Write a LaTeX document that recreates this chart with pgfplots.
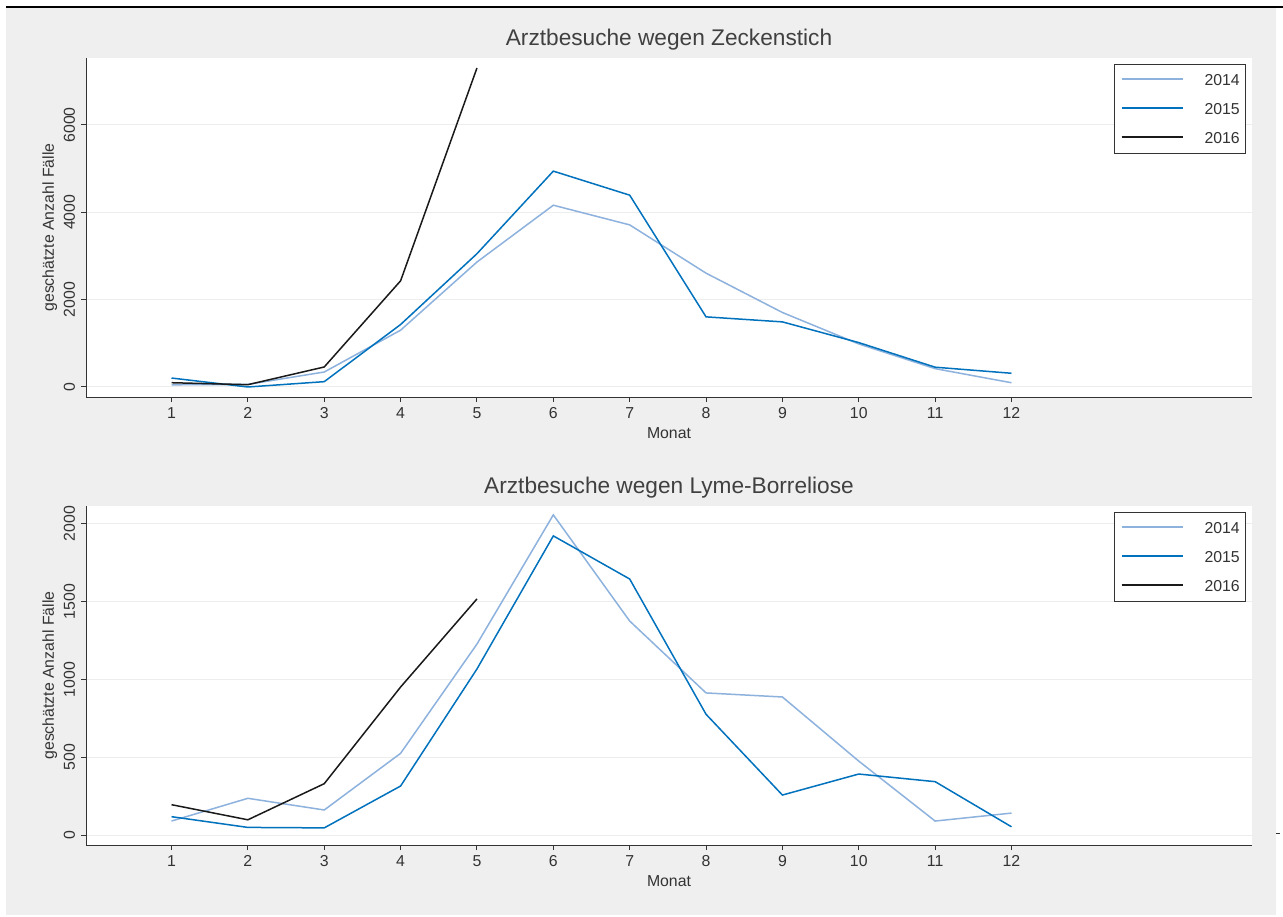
\documentclass[border=0pt]{standalone}
\usepackage{pgfplots}
\pgfplotsset{compat=1.18}
\usepackage{fontspec}
\setmainfont{Liberation Sans}

\definecolor{bg}{RGB}{239,239,239}
\definecolor{c14}{RGB}{142,178,222}
\definecolor{c15}{RGB}{0,114,189}
\definecolor{c16}{RGB}{26,26,26}
\definecolor{txt}{RGB}{51,51,51}

% 1 px of the reference = 0.6pt
\pgfplotsset{
  every axis title shift=0pt,
  zplot/.style={
    scale only axis, width=699.6pt, height=203.4pt,
    xmin=-0.12, xmax=15.15,
    xtick={1,...,12},
    axis x line*=bottom, axis y line*=left,
    axis line style={-, draw=txt, line width=0.6pt},
    tick style={draw=txt, line width=0.6pt},
    tick align=outside, major tick length=3pt,
    ymajorgrids, grid style={draw=black!7, line width=0.6pt},
    axis background/.style={fill=white},
    ticklabel style={font=\fontsize{9.5}{11}\selectfont, text=txt},
    /pgf/number format/assume math mode=true,
    /pgf/number format/set thousands separator={},
    yticklabel style={rotate=90, anchor=south},
    xlabel={Monat}, ylabel={geschätzte Anzahl Fälle},
    label style={font=\fontsize{9.5}{11}\selectfont, text=txt},
    xlabel style={at={(axis description cs:0.5,0)}, anchor=center, yshift=-21.6pt},
    ylabel style={at={(axis description cs:-0.031,0.5)}, anchor=center},
    title style={at={(axis description cs:0.5,1)}, anchor=center, yshift=10.8pt,
      font=\fontsize{13.6}{16}\selectfont, text=black!75},
    legend style={at={(1,1)}, anchor=north east, xshift=-3.6pt, yshift=-3.3pt,
      draw=black!80, line width=0.6pt, fill=white,
      inner xsep=0pt, inner ysep=0.6pt, column sep=0pt, row sep=0pt,
      font=\fontsize{9.5}{11}\selectfont,
      nodes={inner xsep=0pt, inner ysep=5.2pt, text height=7pt, text depth=0pt,
        text width=24.6pt, align=left, text=txt}},
    legend image code/.code={
      \path[draw=none] (0pt,0.4pt) -- (54pt,0.4pt);
      \draw[##1] (4.2pt,0.4pt) -- (40.8pt,0.4pt);},
  },
}

\begin{document}
\begin{tikzpicture}
\useasboundingbox (0,0) rectangle (769.8pt,-550.2pt);
\fill[bg] (3.6pt,-4.8pt) rectangle (765.6pt,-549pt);
\draw[black, line width=0.8pt] (3.6pt,-4.2pt) -- (769.8pt,-4.2pt);
\draw[txt, line width=0.6pt] (765.6pt,-499.8pt) -- (768pt,-499.8pt);

\begin{axis}[zplot,
    at={(51.6pt,-238.2pt)}, anchor=south west,
    title={Arztbesuche wegen Zeckenstich},
    ymin=-229, ymax=7529,
    ytick={0,2000,4000,6000},
]
\addplot[c14, line width=0.9pt] coordinates {
  (1,50)(2,60)(3,343)(4,1300)(5,2860)(6,4160)(7,3710)(8,2605)(9,1705)(10,985)(11,420)(12,97)
};
\addlegendentry{2014}
\addplot[c15, line width=0.9pt] coordinates {
  (1,205)(2,0)(3,122)(4,1430)(5,3050)(6,4940)(7,4390)(8,1605)(9,1490)(10,1016)(11,453)(12,314)
};
\addlegendentry{2015}
\addplot[c16, line width=0.9pt] coordinates {
  (1,98)(2,53)(3,458)(4,2430)(5,7300)
};
\addlegendentry{2016}
\end{axis}

\begin{axis}[zplot,
    at={(51.6pt,-507pt)}, anchor=south west,
    title={Arztbesuche wegen Lyme-Borreliose},
    ymin=-64, ymax=2114,
    ytick={0,500,1000,1500,2000},
]
\addplot[c14, line width=0.9pt] coordinates {
  (1,90)(2,236)(3,161)(4,525)(5,1227)(6,2057)(7,1375)(8,913)(9,887)(10,475)(11,90)(12,141)
};
\addlegendentry{2014}
\addplot[c15, line width=0.9pt] coordinates {
  (1,118)(2,49)(3,46)(4,315)(5,1067)(6,1922)(7,1645)(8,776)(9,257)(10,392)(11,343)(12,53)
};
\addlegendentry{2015}
\addplot[c16, line width=0.9pt] coordinates {
  (1,195)(2,98)(3,330)(4,951)(5,1517)
};
\addlegendentry{2016}
\end{axis}
\end{tikzpicture}
\end{document}
